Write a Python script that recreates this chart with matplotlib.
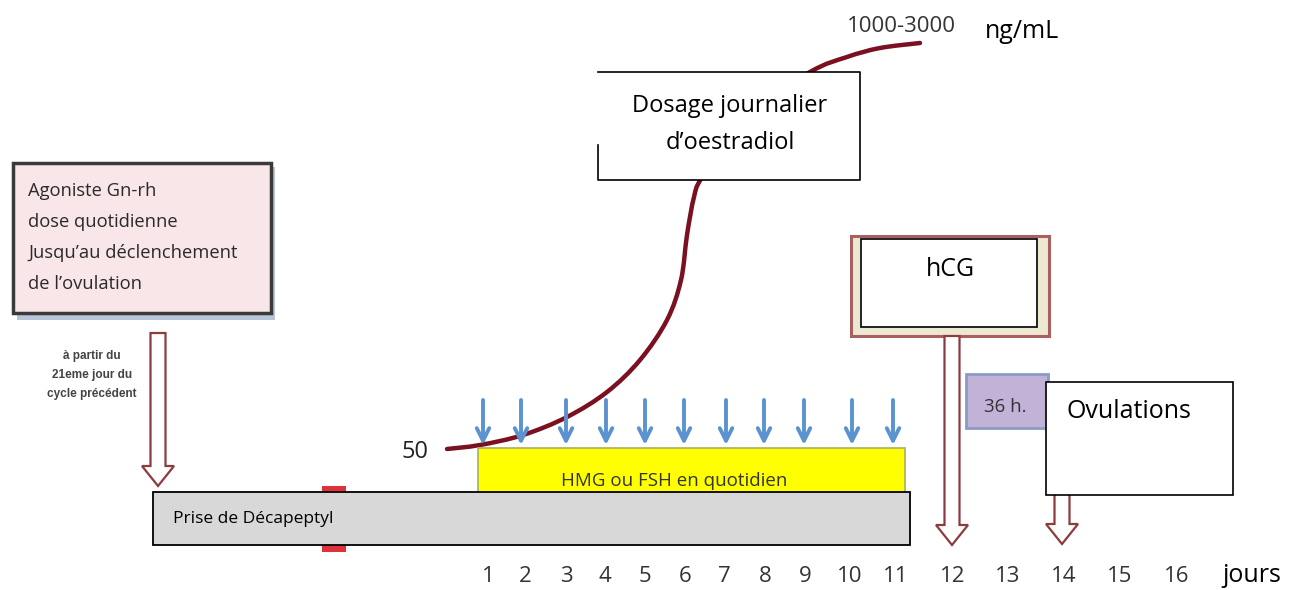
import matplotlib.pyplot as plt
from matplotlib.patches import Rectangle, FancyArrow, PathPatch
from matplotlib.path import Path

# day axis labels and where they sit (pixel x)
days = ["1", "2", "3", "4", "5", "6", "7", "8", "9", "10", "11", "12", "13", "14", "15", "16"]
day_x = [488, 525, 566, 605, 645, 685, 724, 765, 805, 850, 896, 953, 1008, 1064, 1120, 1177]

# daily HMG/FSH injections: days 1..11
inject_x = [483, 521, 566, 606, 645, 684, 726, 764, 804, 852, 893]

# oestradiol rise, 50 -> 1000-3000 ng/mL
e2_x = [447, 480, 523, 567, 607, 640, 667, 681, 687, 694, 702, 740, 810, 847, 880, 920]
e2_y = [449, 445, 435, 417, 392, 360, 320, 280, 235, 197, 177, 118, 72, 57, 48, 43]

agoniste_lines = ["Agoniste Gn-rh", "dose quotidienne",
                  "Jusqu\u2019au d\u00e9clenchement", "de l\u2019ovulation"]
start_note = ["\u00e0 partir du", "21eme jour du", "cycle pr\u00e9c\u00e9dent"]

plain = ["Open Sans", "DejaVu Sans"]
arial = ["Liberation Sans", "DejaVu Sans"]

fig = plt.figure(figsize=(13.01, 5.90), dpi=100)
ax = fig.add_axes([0, 0, 1, 1])
ax.set_xlim(0, 1301)
ax.set_ylim(590, 0)
ax.axis("off")

dark_red = "#8c3b3e"


def hollow_arrow(x, y0, y1):
    ax.add_patch(FancyArrow(x, y0, 0, y1 - y0, width=15, head_width=32, head_length=20,
                            length_includes_head=True, facecolor="white",
                            edgecolor=dark_red, lw=1.6, zorder=3))


# oestradiol curve: smooth Catmull-Rom through traced points, drawn as cubic Beziers
pts = list(zip(e2_x, e2_y))
verts = [pts[0]]
codes = [Path.MOVETO]
for i in range(len(pts) - 1):
    p0 = pts[i - 1] if i > 0 else pts[i]
    p1 = pts[i]
    p2 = pts[i + 1]
    p3 = pts[i + 2] if i + 2 < len(pts) else pts[i + 1]
    c1 = (p1[0] + (p2[0] - p0[0]) / 6, p1[1] + (p2[1] - p0[1]) / 6)
    c2 = (p2[0] - (p3[0] - p1[0]) / 6, p2[1] - (p3[1] - p1[1]) / 6)
    verts += [c1, c2, p2]
    codes += [Path.CURVE4] * 3
ax.add_patch(PathPatch(Path(verts, codes), facecolor="none", edgecolor="#7a1020", lw=3.2,
                       capstyle="round", zorder=2))

ax.text(415, 452, "50", fontsize=17, ha="center", va="center", family=plain, color="#222")
ax.text(901, 27, "1000-3000", fontsize=16, ha="center", va="center", family=plain, color="#333")
ax.text(1022, 31, "ng/mL", fontsize=18, ha="center", va="center", family=plain)

# dosage box (left border partly missing as in the original)
ax.add_patch(Rectangle((598, 72), 262, 108, facecolor="white", edgecolor="none", zorder=4))
ax.plot([598, 860, 860, 598, 598], [72, 72, 180, 180, 145], color="black", lw=1.2, zorder=5)
ax.text(730, 106, "Dosage journalier", fontsize=17, ha="center", va="center", family=plain, zorder=6)
ax.text(730, 143, "d\u2019oestradiol", fontsize=17, ha="center", va="center", family=plain, zorder=6)

# agoniste box with shadow
ax.add_patch(Rectangle((17, 167), 258, 153, facecolor="#b8c4d8", edgecolor="none", zorder=2))
ax.add_patch(Rectangle((13, 163), 258, 150, facecolor="#f8e6e8", edgecolor="#3a3a3a", lw=2.5, zorder=3))
for i, line in enumerate(agoniste_lines):
    ax.text(28, 191 + i * 31, line, fontsize=13.2, ha="left", va="center", family=plain,
            color="#2a2a2a", zorder=4)

hollow_arrow(158, 333, 486)
for i, line in enumerate(start_note):
    ax.text(92, 356 + i * 19, line, fontsize=8.5, ha="center", va="center", family=arial,
            color="#444", fontweight="bold")

# blue injection arrows
for x in inject_x:
    ax.annotate("", xy=(x, 445), xytext=(x, 400),
                arrowprops=dict(arrowstyle="->,head_width=0.45,head_length=0.9",
                                color="#5b93d0", lw=2.8, shrinkA=0, shrinkB=0), zorder=3)

# HMG/FSH bar
ax.add_patch(Rectangle((478, 448), 427, 60, facecolor="#ffff00", edgecolor="#a8b060", lw=1.2, zorder=2))
ax.text(674, 481, "HMG ou FSH en quotidien", fontsize=13.5, ha="center", va="center",
        family=plain, color="#333", zorder=3)

# red marks peeking behind Decapeptyl bar
ax.add_patch(Rectangle((322, 486), 24, 66, facecolor="#e0303a", edgecolor="none", zorder=2))

# Decapeptyl bar
ax.add_patch(Rectangle((153, 492), 757, 53, facecolor="#d8d8d8", edgecolor="black", lw=1.3, zorder=4))
ax.text(173, 519, "Prise de D\u00e9capeptyl", fontsize=12.5, ha="left", va="center", family=plain, zorder=5)

# hCG box
ax.add_patch(Rectangle((851, 236), 198, 100, facecolor="#ece8d2", edgecolor="#a86060", lw=2.2, zorder=3))
ax.add_patch(Rectangle((861, 239), 176, 88, facecolor="white", edgecolor="black", lw=1.2, zorder=4))
ax.text(950, 270, "hCG", fontsize=18, ha="center", va="center", family=plain, zorder=5)
hollow_arrow(952, 336, 545)

# 36 h box
ax.add_patch(Rectangle((966, 374), 82, 54, facecolor="#c3b2d8", edgecolor="#8a9cc4", lw=2, zorder=3))
ax.text(1005, 407, "36 h.", fontsize=13.5, ha="center", va="center", family=plain, color="#333", zorder=4)

# ovulation box + arrow
hollow_arrow(1062, 490, 544)
ax.add_patch(Rectangle((1046, 382), 187, 113, facecolor="white", edgecolor="black", lw=1.2, zorder=5))
ax.text(1067, 412, "Ovulations", fontsize=18, ha="left", va="center", family=plain, zorder=6)

# day labels
for x, d in zip(day_x, days):
    ax.text(x, 577, d, fontsize=16, ha="center", va="center", family=plain, color="#333")
ax.text(1252, 575, "jours", fontsize=18, ha="center", va="center", family=plain)

fig.savefig("out.png", dpi=100)
